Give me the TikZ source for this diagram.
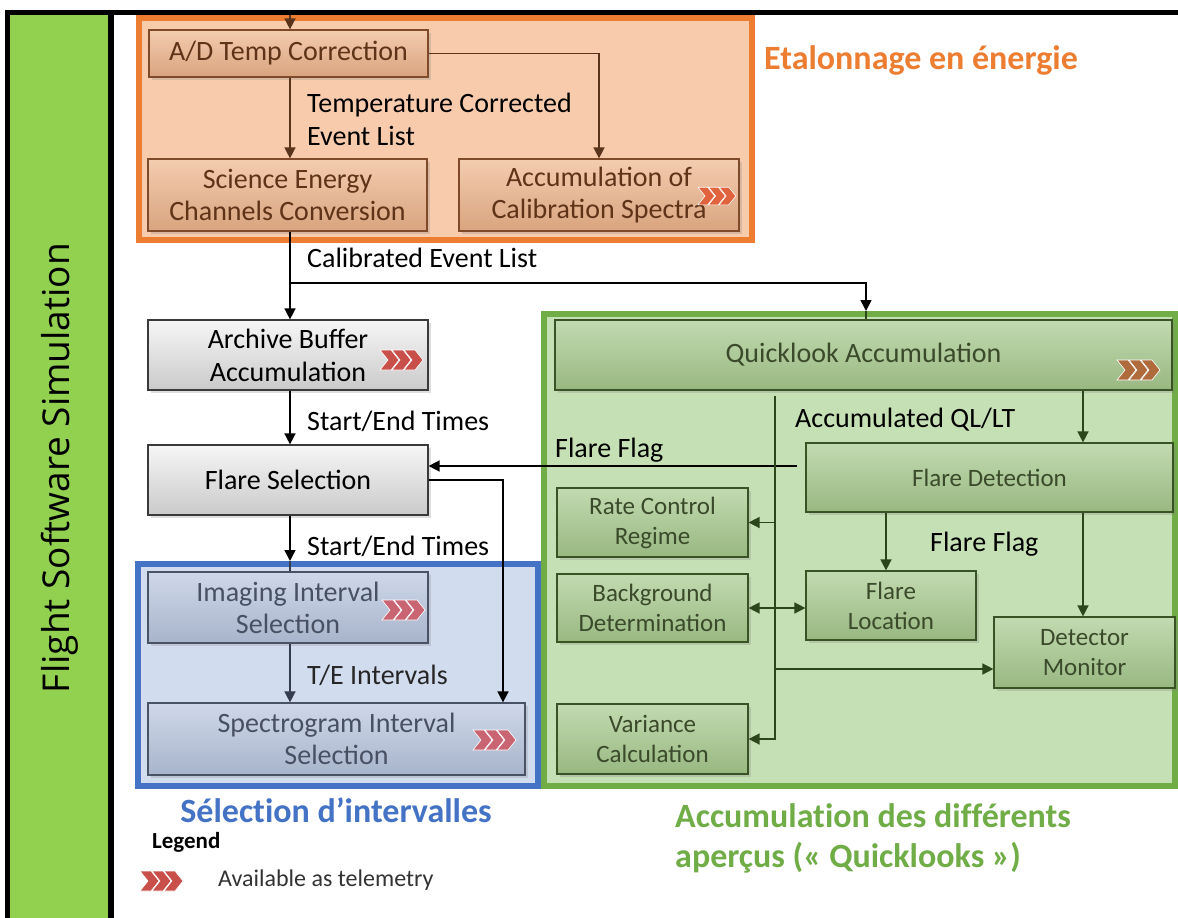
\documentclass[tikz,border=0pt]{standalone}
\usepackage{fontspec}
\setmainfont{Carlito}
\newfontfamily\titlefont{Open Sans}
\newfontfamily\headfont[Ligatures=NoCommon]{Carlito}
\usetikzlibrary{arrows.meta,shadows,calc}
\definecolor{panelgreen}{HTML}{92D050}
\definecolor{orframe}{HTML}{ED7D31}
\definecolor{orfill}{HTML}{F8CBAD}
\definecolor{otop}{HTML}{F3CCAF}
\definecolor{obot}{HTML}{D9A47F}
\definecolor{obord}{HTML}{7F4A2A}
\definecolor{otext}{HTML}{5E3318}
\definecolor{gtop}{HTML}{F6F6F6}
\definecolor{gbot}{HTML}{CACACA}
\definecolor{gbord}{HTML}{3A3A3A}
\definecolor{blframe}{HTML}{4472C4}
\definecolor{blfill}{HTML}{D2DCEF}
\definecolor{btop}{HTML}{CFD8EA}
\definecolor{bbot}{HTML}{A8B4CB}
\definecolor{bbord}{HTML}{4A5366}
\definecolor{btext}{HTML}{485064}
\definecolor{grframe}{HTML}{70AD47}
\definecolor{grfill}{HTML}{C5E0B4}
\definecolor{ntop}{HTML}{C2DAB0}
\definecolor{nbot}{HTML}{98B881}
\definecolor{nbord}{HTML}{3A5324}
\definecolor{ntext}{HTML}{3A4A2A}
\definecolor{narrow}{HTML}{2C4619}
\definecolor{oarrow}{HTML}{5A331B}
\definecolor{barrow}{HTML}{343D4E}
\definecolor{chevred}{HTML}{C9504A}
\definecolor{chevor}{HTML}{E0633E}
\definecolor{chevbr}{HTML}{B06B3C}
\definecolor{chevpk}{HTML}{C96472}
\tikzset{
  boxbase/.style={rectangle, inner sep=2pt, align=center, line width=1.2pt,
    drop shadow={shadow xshift=3pt, shadow yshift=-3pt, opacity=0.25}},
  obox/.style={boxbase, draw=obord, top color=otop, bottom color=obot, text=otext,
    font=\fontsize{28}{32}\selectfont},
  gbox/.style={boxbase, draw=gbord, top color=gtop, bottom color=gbot, text=black,
    font=\fontsize{28}{33}\selectfont},
  bbox/.style={boxbase, draw=bbord, top color=btop, bottom color=bbot, text=btext,
    font=\fontsize{28}{32}\selectfont},
  nbox/.style={boxbase, draw=nbord, top color=ntop, bottom color=nbot, text=ntext,
    font=\fontsize{25}{30}\selectfont},
  frame/.style={rectangle, inner sep=0pt, line width=6pt},
  arr/.style={-{Triangle[length=11pt,width=11pt]}, line width=1.5pt},
  lab/.style={anchor=west, align=left, inner sep=0pt, font=\fontsize{28}{33}\selectfont},
  ttl/.style={anchor=west, align=left, inner sep=0pt, font=\headfont\bfseries\fontsize{34}{40}\selectfont},
  chev/.pic={\foreach \i in {0,12,24}{
      \fill[pic actions, draw=white, line width=0.6pt] (\i,-10) -- ++(11,0) -- ++(8,10) -- ++(-8,10) -- ++(-11,0) -- ++(8,-10) -- cycle;}}
}
\begin{document}
\begin{tikzpicture}[x=1pt,y=-1pt]
\useasboundingbox (0,0) rectangle (1178,918);
\fill[white] (0,0) rectangle (1178,918);
% left panel and top rule
\fill[black] (5,10) rectangle (114,918);
\fill[panelgreen] (10,15) rectangle (108,918);
\fill[black] (5,10) rectangle (1178,15);
\node[rotate=90, font=\titlefont\fontsize{37}{40}\selectfont] (fss) at (60,468) {Flight Software Simulation};

% frames
\node[frame, draw=orframe, fill=orfill, minimum width=613pt, minimum height=222pt] (oframe) at (445,129) {};
\node[frame, draw=grframe, fill=grfill, minimum width=631pt, minimum height=472pt] (gframe) at (859.5,550) {};
\node[frame, draw=blframe, fill=blfill, minimum width=400pt, minimum height=222pt] (bframe) at (338,675) {};

% orange boxes
\node[obox, minimum width=279pt, minimum height=47pt] (ad) at (288.5,53.5) {A/D Temp Correction};
\node[obox, minimum width=279pt, minimum height=72pt] (sec) at (287.5,195) {Science Energy\\Channels Conversion};
\node[obox, minimum width=280pt, minimum height=72pt] (acs) at (599,195) {Accumulation of\\Calibration Spectra};

% gray boxes
\node[gbox, minimum width=280pt, minimum height=70pt] (arch) at (288,355) {Archive Buffer\\Accumulation};
\node[gbox, minimum width=280pt, minimum height=70pt] (fsel) at (288,480) {Flare Selection};

% blue boxes
\node[bbox, minimum width=280pt, minimum height=71pt] (img) at (288,607.5) {Imaging Interval\\Selection};
\node[bbox, minimum width=377pt, minimum height=72pt] (spec) at (336.5,739) {Spectrogram Interval\\Selection};

% green boxes
\node[nbox, minimum width=617pt, minimum height=70pt, font=\fontsize{28}{32}\selectfont] (qla) at (863.5,355) {Quicklook Accumulation};
\node[nbox, minimum width=367pt, minimum height=69pt] (fdet) at (989.5,477.5) {Flare Detection};
\node[nbox, minimum width=191pt, minimum height=69pt] (rcr) at (652.5,522.5) {Rate Control\\Regime};
\node[nbox, minimum width=191pt, minimum height=68pt] (bgd) at (652.5,608) {Background\\Determination};
\node[nbox, minimum width=170pt, minimum height=69pt] (floc) at (891,605.5) {Flare\\Location};
\node[nbox, minimum width=181pt, minimum height=71pt] (dmon) at (1084.5,652.5) {Detector\\Monitor};
\node[nbox, minimum width=191pt, minimum height=70pt] (var) at (652.5,739) {Variance\\Calculation};

% telemetry chevrons
\pic[fill=chevor, scale=0.88] at (698,196) {chev};
\pic[fill=chevred] at (380,360) {chev};
\pic[fill=chevbr] at (1117,370) {chev};
\pic[fill=chevpk] at (382,610) {chev};
\pic[fill=chevpk] at (473,740) {chev};

% helper coordinates
\coordinate (cx) at (290,0);
\coordinate (top) at (290,15);
\coordinate (qx) at (866,0);
\coordinate (calby) at (0,283);
\coordinate (ffy) at (0,466);
\coordinate (fsx) at (503,0);
\coordinate (vx) at (775,0);
\coordinate (rx) at (1083,0);
\coordinate (lx) at (886,0);
\coordinate (dmy) at (0,669);

% orange connectors
\draw[arr, oarrow] (top) -- (cx |- ad.north);
\draw[arr, oarrow] (cx |- ad.south) -- (cx |- sec.north);
\draw[arr, oarrow] (ad.east) -| (acs.north);
\node[lab, text=black] (l1) at (307,119.5) {Temperature Corrected\\Event List};

% calibrated event list
\draw[arr, black] (cx |- sec.south) -- (cx |- arch.north);
\draw[arr, black] (cx |- calby) -| (qx |- gframe.north);
\draw[line width=1.5pt, narrow] (qx |- gframe.north) -- (qx |- qla.north);
\node[lab] (l2) at (307,258) {Calibrated Event List};

\draw[arr, black] (cx |- arch.south) -- (cx |- fsel.north);
\node[lab] (l3) at (307,421) {Start/End Times};

\draw[arr, black, shorten <=8pt] (fdet.west |- ffy) -- (fsel.east |- ffy);
\node[lab] (l4) at (555,450) {Flare Flag};

\draw[arr, black] (fsel.east) -| (fsx |- spec.north);

\draw[arr, black] (cx |- fsel.south) -- (cx |- bframe.north);
\draw[line width=1.5pt, barrow] (cx |- bframe.north) -- (cx |- img.north);
\node[lab] (l5) at (307,546) {Start/End Times};

\draw[arr, barrow] (cx |- img.south) -- (cx |- spec.north);
\node[lab, text=black!85] (l6) at (307,675) {T/E Intervals};

% green connectors
\draw[arr, narrow] ($(qla.south -| vx)+(0,5)$) |- (var.east);
\draw[arr, narrow] (vx |- rcr.east) -- (rcr.east);
\draw[arr, narrow] (vx |- dmy) -- (dmon.west |- dmy);
\draw[{Triangle[length=11pt,width=11pt]}-{Triangle[length=11pt,width=11pt]}, line width=1.5pt, narrow] (bgd.east) -- (floc.west |- bgd.east);
\draw[arr, narrow] (rx |- qla.south) -- (rx |- fdet.north);
\node[lab] (l7) at (795,420) {Accumulated QL/LT};
\draw[arr, narrow] (lx |- fdet.south) -- (lx |- floc.north);
\node[lab] (l8) at (930,544) {Flare Flag};
\draw[arr, narrow] (rx |- fdet.south) -- (rx |- dmon.north);

% titles
\node[ttl, text=orframe] (t1) at (764,60) {Etalonnage en énergie};
\node[ttl, text=blframe, anchor=center, align=center] (t2) at (336,810) {Sélection d’intervalles};
\node[ttl, text=grframe] (t3) at (675,838) {Accumulation des différents\\aperçus («~Quicklooks~»)};

% legend
\node[anchor=west, inner sep=0pt, font=\bfseries\fontsize{23}{28}\selectfont] (leg) at (152,842) {Legend};
\pic[fill=chevred] at (140,881) {chev};
\node[anchor=west, inner sep=0pt, text=black!80, font=\fontsize{24}{28}\selectfont] (legt) at (218,880) {Available as telemetry};
\end{tikzpicture}
\end{document}
